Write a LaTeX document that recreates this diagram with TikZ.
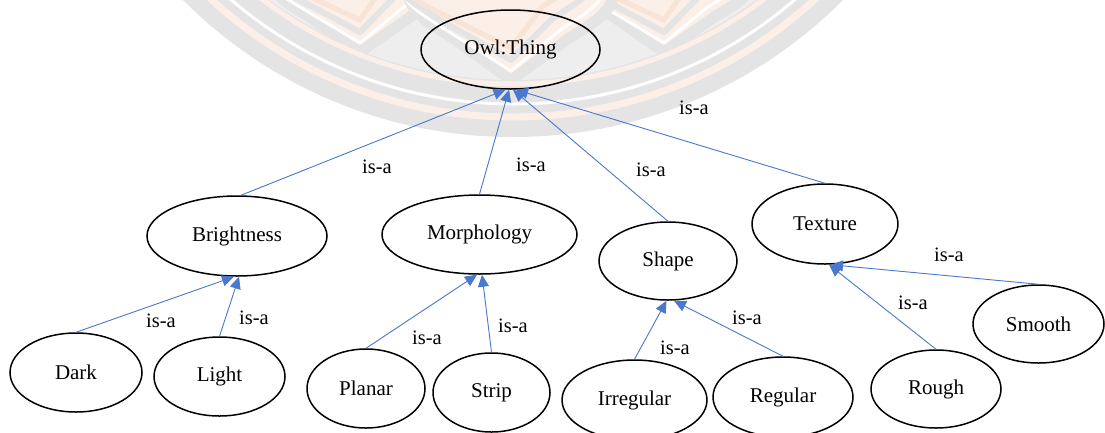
\documentclass[tikz,border=0pt]{standalone}
\usepackage{fontspec}
\setmainfont{Liberation Serif}
\usetikzlibrary{shapes.geometric,arrows.meta}

\definecolor{edgeblue}{HTML}{4A78CC}
\definecolor{wmgray}{HTML}{E4E4E4}
\definecolor{wmlight}{HTML}{EEEEEE}
\definecolor{wmorange}{HTML}{FCEFE7}
\definecolor{wmorangedeep}{HTML}{F8E4D7}

% one lotus petal of the emblem: #1 style, tip (#2,#3), half width #4, height #5
\newcommand\lotuspetal[5]{%
  \draw[#1] ({#2-#4},{#3-#5}) .. controls ({#2-#4},{#3-0.55*#5}) .. ({#2-0.55*#4},{#3-0.32*#5})
    -- (#2,#3) -- ({#2+0.55*#4},{#3-0.32*#5})
    .. controls ({#2+#4},{#3-0.55*#5}) .. ({#2+#4},{#3-#5});}
\newcommand\lotusset[4]{%
  \lotuspetal{fill=wmorange,draw=wmgray,line width=11pt,line join=round}{#1}{#2}{#3}{#4}
  \lotuspetal{draw=white,line width=3pt,line join=round}{#1}{#2-9}{#3-8}{#4}
  \lotuspetal{draw=wmgray,line width=6pt,line join=round}{#1}{#2-20}{#3-16}{#4}
  \lotuspetal{draw=wmorangedeep,line width=5pt,line join=round}{#1}{#2-32}{#3-26}{#4}}

\tikzset{
  concept/.style={ellipse,draw=black,line width=1.5pt,inner sep=0pt,
    font=\fontsize{21}{24}\selectfont},
  isa/.style={draw=edgeblue,line width=0.9pt,
    -{Triangle[length=12pt,width=11pt,fill=edgeblue]}},
  rel/.style={font=\fontsize{20.5}{24}\selectfont,inner sep=0pt}
}

\begin{document}
\begin{tikzpicture}[x=1pt,y=-1pt]
\useasboundingbox (0,0) rectangle (1105,432);
\fill[white] (0,0) rectangle (1105,432);

% faint emblem behind the top of the tree
\begin{scope}
  \clip (0,0) rectangle (1105,432);
  \fill[wmgray] (513,-329) circle[radius=466];
  \draw[wmorange,line width=7pt] (513,-329) circle[radius=446];
  \draw[white,line width=3pt] (513,-329) circle[radius=433];
  \draw[wmorange,line width=5pt] (513,-329) circle[radius=413];
  \fill[wmlight] (513,-329) circle[radius=409];
  \begin{scope}
    \clip (513,-329) circle[radius=409];
    \lotusset{360}{52}{92}{110}
    \lotusset{664}{52}{92}{110}
    \lotusset{511}{80}{105}{130}
  \end{scope}
\end{scope}

% concepts
\node[concept,minimum width=179pt,minimum height=79pt] (thing) at (510.5,49.5) {Owl:Thing};
\node[concept,minimum width=180pt,minimum height=80pt] (bright) at (237,236) {Brightness};
\node[concept,minimum width=195pt,minimum height=79pt] (morph) at (479.5,234.5) {Morphology};
\node[concept,minimum width=138pt,minimum height=78pt] (shape) at (668,261) {Shape};
\node[concept,minimum width=146pt,minimum height=80pt] (texture) at (825,224) {Texture};
\node[concept,minimum width=132pt,minimum height=79pt] (dark) at (76,372.5) {Dark};
\node[concept,minimum width=131pt,minimum height=79pt] (light) at (219.5,376.5) {Light};
\node[concept,minimum width=118pt,minimum height=79pt] (planar) at (366,388.5) {Planar};
\node[concept,minimum width=117pt,minimum height=79pt] (strip) at (491.5,392.5) {Strip};
\node[concept,minimum width=145pt,minimum height=80pt] (irregular) at (634.5,400) {Irregular};
\node[concept,minimum width=140pt,minimum height=80pt] (regular) at (783,397) {Regular};
\node[concept,minimum width=130pt,minimum height=78pt] (rough) at (936,389) {Rough};
\node[concept,minimum width=131pt,minimum height=78pt] (smooth) at (1038.5,324) {Smooth};

% is-a links, child to parent
\draw[isa] ([xshift=4pt]bright.north) -- ([xshift=-5pt]thing.south);
\draw[isa] (morph.north) -- ([xshift=-1.5pt]thing.south);
\draw[isa] (shape.north) -- ([xshift=2.5pt]thing.south);
\draw[isa] (texture.north) -- ([xshift=5.5pt]thing.south);
\draw[isa] (dark.north) -- ([xshift=-3pt]bright.south);
\draw[isa] (light.north) -- ([xshift=2pt]bright.south);
\draw[isa] (planar.north) -- ([xshift=-2.5pt]morph.south);
\draw[isa] (strip.north) -- ([xshift=2.5pt]morph.south);
\draw[isa] (irregular.north) -- ([xshift=-1.5pt]shape.south);
\draw[isa] (regular.north) -- ([xshift=6pt]shape.south);
\draw[isa] (rough.north) -- ([xshift=4pt]texture.south);
\draw[isa] (smooth.north) -- ([xshift=6pt]texture.south);

% link labels
\node[rel] (l1) at (377,167) {is-a};
\node[rel] (l2) at (531,165) {is-a};
\node[rel] (l3) at (651,170) {is-a};
\node[rel] (l4) at (694,108) {is-a};
\node[rel] (l5) at (161,321) {is-a};
\node[rel] (l6) at (254,318) {is-a};
\node[rel] (l7) at (427,338) {is-a};
\node[rel] (l8) at (513,326) {is-a};
\node[rel] (l9) at (675,348) {is-a};
\node[rel] (l10) at (747,318) {is-a};
\node[rel] (l11) at (913,303) {is-a};
\node[rel] (l12) at (949,255) {is-a};
\end{tikzpicture}
\end{document}
